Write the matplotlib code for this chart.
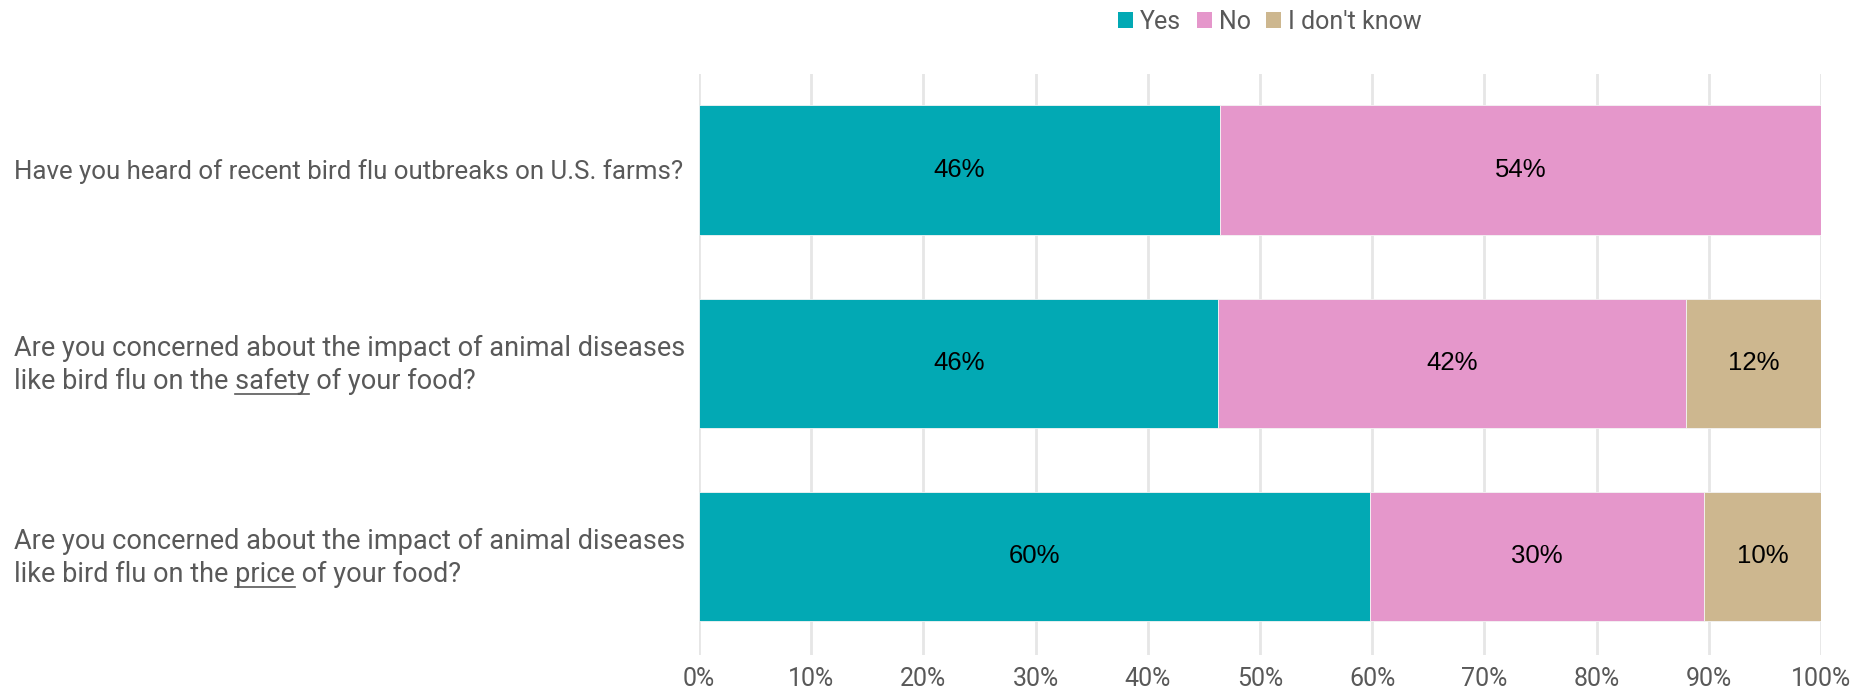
import matplotlib.pyplot as plt
from matplotlib.patches import Patch
from matplotlib.lines import Line2D
import matplotlib.transforms as mtransforms

plt.rcParams['font.family'] = ['Roboto', 'DejaVu Sans']

# question text, one list of lines per bar; (line index, word) to underline
questions = [
    ["Have you heard of recent bird flu outbreaks on U.S. farms?"],
    ["Are you concerned about the impact of animal diseases",
     "like bird flu on the safety of your food?"],
    ["Are you concerned about the impact of animal diseases",
     "like bird flu on the price of your food?"],
]
underline = [None, (1, "safety"), (1, "price")]

series = ["Yes", "No", "I don't know"]
yes = [46.4, 46.3, 59.8]
no = [53.6, 41.7, 29.8]
dont_know = [0.0, 12.0, 10.4]
colors = ["#02a9b4", "#e597cb", "#cdb78f"]

ticks = [0, 10, 20, 30, 40, 50, 60, 70, 80, 90, 100]
tick_labels = [f"{t}%" for t in ticks]

gray = "#595959"

fig = plt.figure(figsize=(18.73, 6.89), dpi=100)
ax = fig.add_axes([699 / 1873, 1 - 655 / 689, 1122 / 1873, 581 / 689])

ypos = list(range(len(questions)))
left = [0.0] * len(ypos)
for name, vals, c in zip(series, [yes, no, dont_know], colors):
    bars = ax.barh(ypos, vals, left=left, height=0.668, color=c,
                   edgecolor="#f4f4f4", linewidth=0.6, label=name, zorder=2)
    for b, v in zip(bars, vals):
        if v > 0:
            ax.text(b.get_x() + b.get_width() / 2, b.get_y() + b.get_height() / 2,
                    f"{v:.0f}%", ha="center", va="center", fontsize=18.5,
                    family="Liberation Sans", color="black", zorder=3)
    left = [l + v for l, v in zip(left, vals)]

ax.set_xlim(0, 100)
ax.set_ylim(2.51, -0.497)
ax.set_xticks(ticks)
ax.set_xticklabels(tick_labels, fontsize=18, color=gray)
ax.tick_params(axis="x", length=0, pad=9)
ax.set_yticks([])
ax.grid(axis="x", color="#e6e6e6", linewidth=2, zorder=0)
for s in ax.spines.values():
    s.set_visible(False)

# question labels, drawn line by line so one word can be underlined
trans = mtransforms.blended_transform_factory(fig.transFigure, ax.transData)
label_x = 14 / 1873
label_size = [18.6, 19.5, 19.5]
renderer = fig.canvas.get_renderer()
for i, lines in enumerate(questions):
    fs = label_size[i]
    if len(lines) == 1:
        offsets = [-9]
    else:
        offsets = [7, -26]
    for j, (line, off) in enumerate(zip(lines, offsets)):
        tr = mtransforms.offset_copy(trans, fig=fig, x=0, y=off, units="dots")
        ax.text(label_x, i, line, transform=tr, ha="left", va="baseline",
                fontsize=fs, color=gray)
        if underline[i] is not None and underline[i][0] == j:
            word = underline[i][1]
            head = line[:line.index(word) + len(word)]
            t1 = ax.text(label_x, i, head, transform=tr, ha="left", va="baseline",
                         fontsize=fs)
            t2 = ax.text(label_x, i, word, transform=tr, ha="left", va="baseline",
                         fontsize=fs)
            bb1 = t1.get_window_extent(renderer)
            bb2 = t2.get_window_extent(renderer)
            t1.remove()
            t2.remove()
            x1 = bb1.x1
            x0 = x1 - bb2.width
            base = ax.transData.transform((0, i))[1] + off - 5
            inv = fig.transFigure.inverted()
            p0 = inv.transform((x0, base))
            p1 = inv.transform((x1, base))
            fig.add_artist(Line2D([p0[0], p1[0]], [p0[1], p1[1]],
                                  color=gray, linewidth=1.2,
                                  transform=fig.transFigure))

handles = [Patch(facecolor=c, edgecolor="none") for c in colors]
fig.legend(handles, series, loc="center", bbox_to_anchor=(1270 / 1873, 1 - 22 / 689),
           ncol=3, frameon=False, fontsize=18, labelcolor=gray,
           handlelength=0.6, handleheight=0.6, handletextpad=0.3,
           columnspacing=0.6)

fig.savefig("out.png", dpi=100)
